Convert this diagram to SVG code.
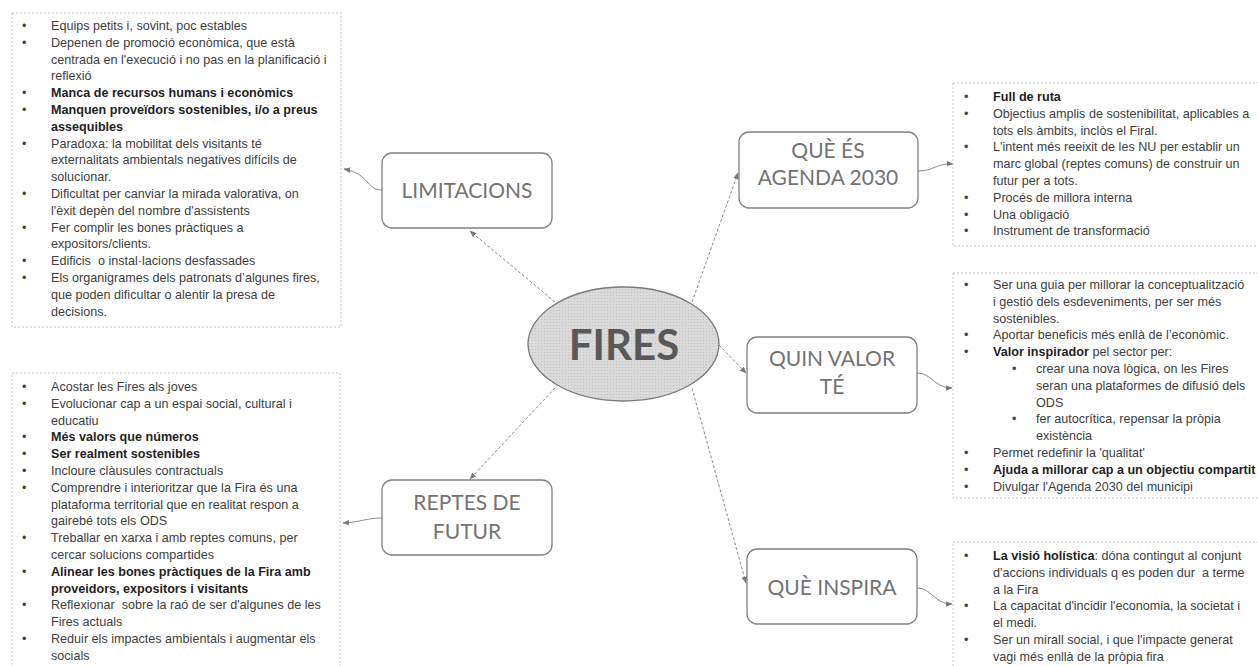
<svg xmlns="http://www.w3.org/2000/svg" width="1258" height="666" viewBox="0 0 1258 666">
<style>
.t{font-family:"Liberation Sans",Arial,sans-serif;font-size:12.6px;fill:#404040;white-space:pre}
.b{font-weight:bold;fill:#1f1f1f}
.list{fill:#fff;stroke:#c4c4c4;stroke-width:1;stroke-dasharray:2 2}
.node{fill:#fff;stroke:#808080;stroke-width:1.3}
.nt{font-family:Lato,"Liberation Sans",sans-serif;font-size:21px;fill:#737373;text-anchor:middle}
.dash{fill:none;stroke:#8c8c8c;stroke-width:1;stroke-dasharray:3 2;marker-end:url(#ah)}
.sol{fill:none;stroke:#8c8c8c;stroke-width:1;marker-end:url(#ah)}
</style>
<defs>
<marker id="ah" viewBox="0 0 10 10" refX="9" refY="5" markerWidth="7" markerHeight="7" orient="auto" markerUnits="userSpaceOnUse">
<path d="M0,1 L10,5 L0,9 z" fill="#7a7a7a"/>
</marker>
<pattern id="dots" width="3" height="3" patternUnits="userSpaceOnUse">
<rect width="3" height="3" fill="#dadada"/>
<rect x="1" y="1" width="1" height="1" fill="#c2c2c2"/>
</pattern>
</defs>
<rect width="1258" height="666" fill="#fff"/>

<g id="connectors">
<path class="dash" d="M555,302 L470,231"/>
<path class="dash" d="M692,302 L738,173"/>
<path class="dash" d="M719,345 L746,373"/>
<path class="dash" d="M692,388 L746,583"/>
<path class="dash" d="M555,388 L470,479"/>
<path class="sol" d="M382,190 C366,190 370,174 344,169"/>
<path class="sol" d="M382,518 C366,518 362,522 343,523"/>
<path class="sol" d="M918,171 C934,171 936,163 953,164"/>
<path class="sol" d="M917,373 C932,373 934,388 952,388"/>
<path class="sol" d="M917,588 C932,588 934,604 952,604"/>
</g>

<g id="fires">
<ellipse cx="623.5" cy="344" rx="95.5" ry="57" fill="url(#dots)" stroke="#7a7a7a" stroke-width="1.3"/>
<text x="624" y="360" text-anchor="middle" style="font-family:Lato,'Liberation Sans',sans-serif;font-size:42px;font-weight:bold;fill:#595959">FIRES</text>
</g>

<g id="limitacions">
<rect class="node" x="382" y="153" width="170" height="75" rx="10"/>
<text class="nt" x="467" y="198">LIMITACIONS</text>
</g>

<g id="que-es-agenda">
<rect class="node" x="739" y="132" width="179" height="76" rx="10"/>
<text class="nt" x="828" y="158">QUÈ ÉS</text>
<text class="nt" x="828" y="185">AGENDA 2030</text>
</g>

<g id="quin-valor">
<rect class="node" x="747" y="337" width="170" height="76" rx="10"/>
<text class="nt" x="832" y="366">QUIN VALOR</text>
<text class="nt" x="832" y="394">TÉ</text>
</g>

<g id="que-inspira">
<rect class="node" x="747" y="549" width="170" height="75" rx="10"/>
<text class="nt" x="832" y="595">QUÈ INSPIRA</text>
</g>

<g id="reptes">
<rect class="node" x="382" y="480" width="170" height="75" rx="10"/>
<text class="nt" x="467" y="510">REPTES DE</text>
<text class="nt" x="467" y="539">FUTUR</text>
</g>

<g id="limitacions-list">
<rect class="list" x="12" y="13" width="329" height="314"/>
<text class="t" x="22" y="30">•</text><text class="t" x="51" y="30">Equips petits i, sovint, poc estables</text>
<text class="t" x="22" y="47">•</text><text class="t" x="51" y="47">Depenen de promoció econòmica, que està</text>
<text class="t" x="51" y="63.6">centrada en l'execució i no pas en la planificació i</text>
<text class="t" x="51" y="80.4">reflexió</text>
<text class="t" x="22" y="97.2">•</text><text class="t b" x="51" y="97.2">Manca de recursos humans i econòmics</text>
<text class="t" x="22" y="114">•</text><text class="t b" x="51" y="114">Manquen proveïdors sostenibles, i/o a preus</text>
<text class="t b" x="51" y="130.8">assequibles</text>
<text class="t" x="22" y="147.6">•</text><text class="t" x="51" y="147.6">Paradoxa: la mobilitat dels visitants té</text>
<text class="t" x="51" y="164.4">externalitats ambientals negatives difícils de</text>
<text class="t" x="51" y="181.2">solucionar.</text>
<text class="t" x="22" y="198">•</text><text class="t" x="51" y="198">Dificultat per canviar la mirada valorativa, on</text>
<text class="t" x="51" y="214.8">l'èxit depèn del nombre d'assistents</text>
<text class="t" x="22" y="231.6">•</text><text class="t" x="51" y="231.6">Fer complir les bones pràctiques a</text>
<text class="t" x="51" y="248.4">expositors/clients.</text>
<text class="t" x="22" y="265.2">•</text><text class="t" x="51" y="265.2">Edificis  o instal·lacions desfassades</text>
<text class="t" x="22" y="282">•</text><text class="t" x="51" y="282">Els organigrames dels patronats d’algunes fires,</text>
<text class="t" x="51" y="298.8">que poden dificultar o alentir la presa de</text>
<text class="t" x="51" y="315.6">decisions.</text>
</g>

<g id="reptes-list">
<rect class="list" x="12" y="373" width="328" height="300"/>
<text class="t" x="22" y="391">•</text><text class="t" x="51" y="391">Acostar les Fires als joves</text>
<text class="t" x="22" y="407.8">•</text><text class="t" x="51" y="407.8">Evolucionar cap a un espai social, cultural i</text>
<text class="t" x="51" y="424.6">educatiu</text>
<text class="t" x="22" y="441.4">•</text><text class="t b" x="51" y="441.4">Més valors que números</text>
<text class="t" x="22" y="458.2">•</text><text class="t b" x="51" y="458.2">Ser realment sostenibles</text>
<text class="t" x="22" y="475">•</text><text class="t" x="51" y="475">Incloure clàusules contractuals</text>
<text class="t" x="22" y="491.8">•</text><text class="t" x="51" y="491.8">Comprendre i interioritzar que la Fira és una</text>
<text class="t" x="51" y="508.6">plataforma territorial que en realitat respon a</text>
<text class="t" x="51" y="525.4">gairebé tots els ODS</text>
<text class="t" x="22" y="542.2">•</text><text class="t" x="51" y="542.2">Treballar en xarxa i amb reptes comuns, per</text>
<text class="t" x="51" y="559">cercar solucions compartides</text>
<text class="t" x="22" y="575.8">•</text><text class="t b" x="51" y="575.8">Alinear les bones pràctiques de la Fira amb</text>
<text class="t b" x="51" y="592.6">proveidors, expositors i visitants</text>
<text class="t" x="22" y="609.4">•</text><text class="t" x="51" y="609.4">Reflexionar  sobre la raó de ser d'algunes de les</text>
<text class="t" x="51" y="626.2">Fires actuals</text>
<text class="t" x="22" y="643">•</text><text class="t" x="51" y="643">Reduir els impactes ambientals i augmentar els</text>
<text class="t" x="51" y="659.8">socials</text>
</g>

<g id="agenda-list">
<rect class="list" x="953" y="83" width="310" height="163"/>
<text class="t" x="964" y="101">•</text><text class="t b" x="993" y="101">Full de ruta</text>
<text class="t" x="964" y="117.8">•</text><text class="t" x="993" y="117.8">Objectius amplis de sostenibilitat, aplicables a</text>
<text class="t" x="993" y="134.6">tots els àmbits, inclòs el Firal.</text>
<text class="t" x="964" y="151.4">•</text><text class="t" x="993" y="151.4">L'intent més reeixit de les NU per establir un</text>
<text class="t" x="993" y="168.2">marc global (reptes comuns) de construir un</text>
<text class="t" x="993" y="185">futur per a tots.</text>
<text class="t" x="964" y="201.8">•</text><text class="t" x="993" y="201.8">Procés de millora interna</text>
<text class="t" x="964" y="218.6">•</text><text class="t" x="993" y="218.6">Una obligació</text>
<text class="t" x="964" y="235.4">•</text><text class="t" x="993" y="235.4">Instrument de transformació</text>
</g>

<g id="valor-list">
<rect class="list" x="953" y="273" width="310" height="225"/>
<text class="t" x="964" y="289">•</text><text class="t" x="993" y="289">Ser una guia per millorar la conceptualització</text>
<text class="t" x="993" y="305.8">i gestió dels esdeveniments, per ser més</text>
<text class="t" x="993" y="322.6">sostenibles.</text>
<text class="t" x="964" y="339.4">•</text><text class="t" x="993" y="339.4">Aportar beneficis més enllà de l’econòmic.</text>
<text class="t" x="964" y="356.2">•</text><text class="t" x="993" y="356.2"><tspan class="b">Valor inspirador</tspan> pel sector per:</text>
<text class="t" x="1012" y="373">•</text><text class="t" x="1036" y="373">crear una nova lògica, on les Fires</text>
<text class="t" x="1036" y="389.8">seran una plataformes de difusió dels</text>
<text class="t" x="1036" y="406.6">ODS</text>
<text class="t" x="1012" y="423.4">•</text><text class="t" x="1036" y="423.4">fer autocrítica, repensar la pròpia</text>
<text class="t" x="1036" y="440.2">existència</text>
<text class="t" x="964" y="457">•</text><text class="t" x="993" y="457">Permet redefinir la 'qualitat'</text>
<text class="t" x="964" y="473.8">•</text><text class="t b" x="993" y="473.8">Ajuda a millorar cap a un objectiu compartit</text>
<text class="t" x="964" y="490.6">•</text><text class="t" x="993" y="490.6">Divulgar l'Agenda 2030 del municipi</text>
</g>

<g id="inspira-list">
<rect class="list" x="953" y="542" width="310" height="140"/>
<text class="t" x="964" y="560">•</text><text class="t" x="993" y="560"><tspan class="b">La visió holística</tspan>: dóna contingut al conjunt</text>
<text class="t" x="993" y="576.8">d'accions individuals q es poden dur  a terme</text>
<text class="t" x="993" y="593.6">a la Fira</text>
<text class="t" x="964" y="610.4">•</text><text class="t" x="993" y="610.4">La capacitat d'incidir l'economia, la societat i</text>
<text class="t" x="993" y="627.2">el medi.</text>
<text class="t" x="964" y="644">•</text><text class="t" x="993" y="644">Ser un mirall social, i que l'impacte generat</text>
<text class="t" x="993" y="660.8">vagi més enllà de la pròpia fira</text>
</g>
</svg>
